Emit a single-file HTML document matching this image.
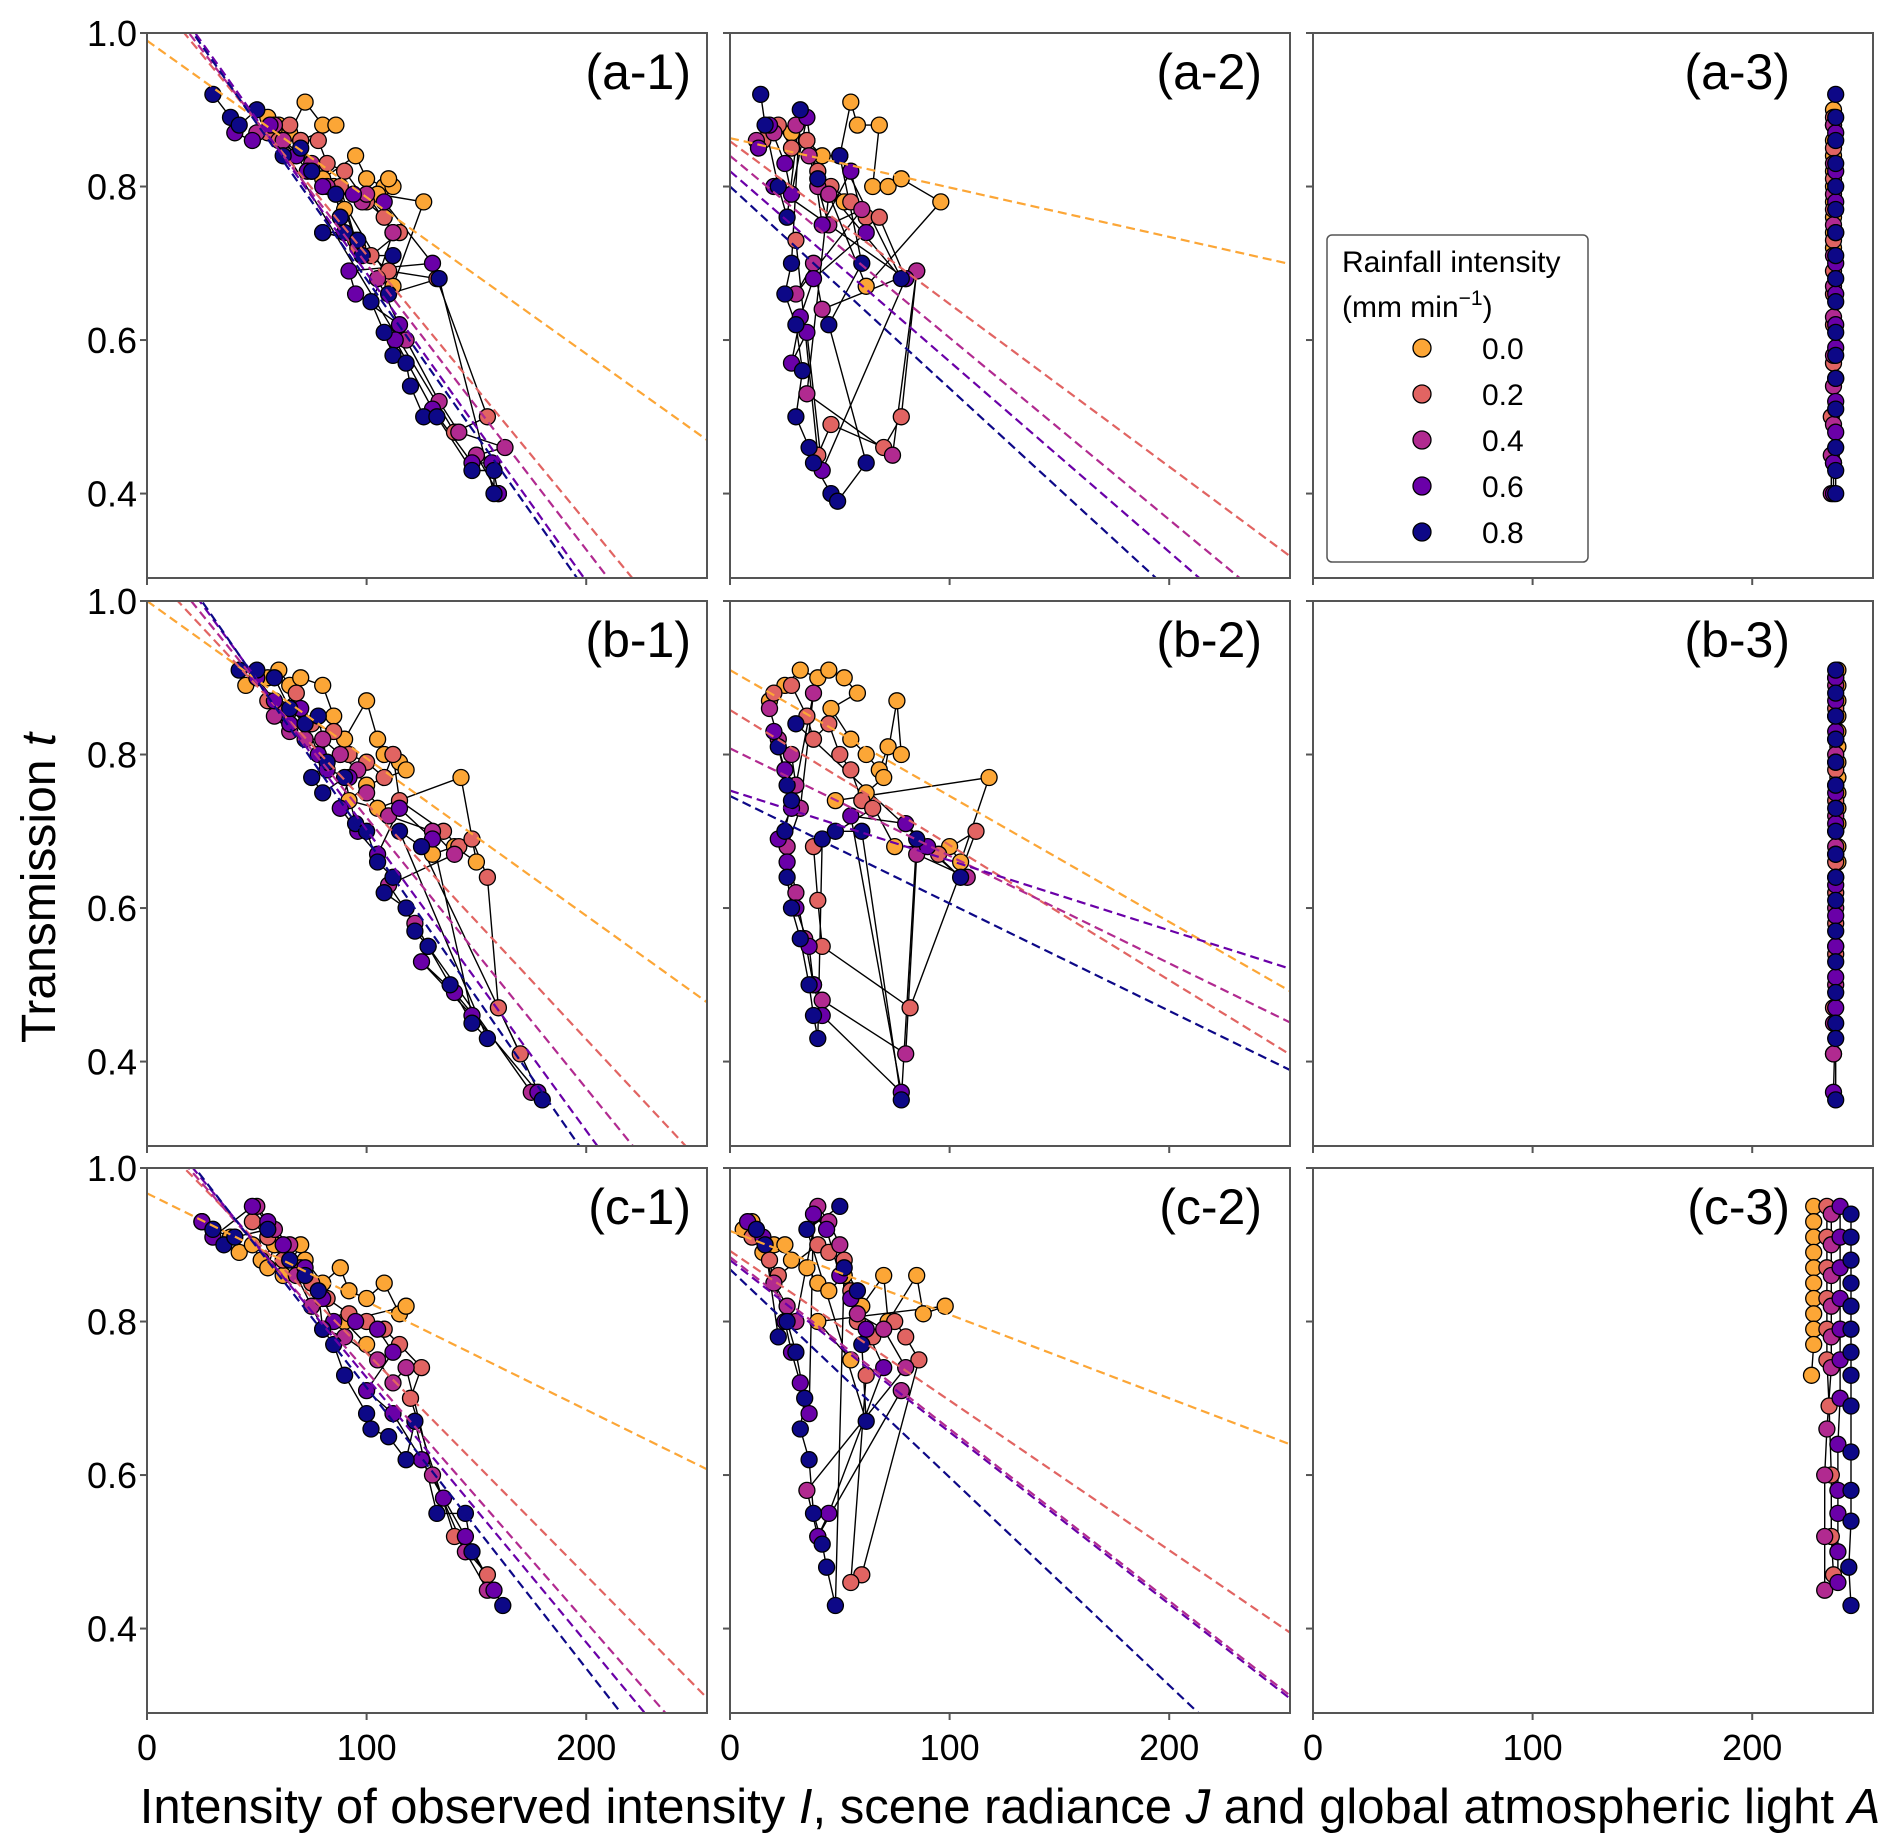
<!DOCTYPE html>
<html><head><meta charset="utf-8">
<style>
html,body{margin:0;padding:0;background:#fff;}
svg{display:block;font-family:"Liberation Sans",Arial,sans-serif;}
</style></head>
<body>
<svg id="chart" width="1892" height="1848" viewBox="0 0 1892 1848" xmlns="http://www.w3.org/2000/svg">
<g id="panels"></g>
<text x="0" y="0" font-size="48" text-anchor="middle" transform="translate(55,888) rotate(-90)">Transmission <tspan font-style="italic">t</tspan></text>
<text x="1010" y="1823" font-size="49" text-anchor="middle">Intensity of observed intensity <tspan font-style="italic">I</tspan>, scene radiance <tspan font-style="italic">J</tspan> and global atmospheric light <tspan font-style="italic">A</tspan></text>
<g>
 <rect x="1327" y="235" width="261" height="327" rx="5" fill="#fff" stroke="#555" stroke-width="1.5"/>
 <text x="1342" y="272" font-size="30">Rainfall intensity</text>
 <text x="1342" y="317" font-size="30">(mm min<tspan dy="-12" font-size="21">−1</tspan><tspan dy="12">)</tspan></text>
 <g id="legendEntries"></g>
</g>
</svg>
<script>
var NS="http://www.w3.org/2000/svg";
var seriesLabels=["0.0","0.2","0.4","0.6","0.8"];
var seriesColors=["#fca636","#e16462","#b12a90","#6a00a8","#0d0887"];
var panelNames=["a-1","a-2","a-3","b-1","b-2","b-3","c-1","c-2","c-3"];
var xTicks=[0,100,200];
var yTicks=[0.4,0.6,0.8,1.0];
var fitIntercepts={
 "a-1":[0.99,1.059,1.071,1.088,1.085],
 "a-2":[0.863,0.859,0.84,0.82,0.80],
 "b-1":[1.0,1.043,1.071,1.094,1.103],
 "b-2":[0.910,0.858,0.808,0.753,0.746],
 "c-1":[0.967,1.049,1.062,1.072,1.08],
 "c-2":[0.918,0.892,0.884,0.88,0.868]
};
var fitSlopes={
 "a-1":[-0.00204,-0.00348,-0.00372,-0.00401,-0.00406],
 "a-2":[-0.000643,-0.00212,-0.00237,-0.00248,-0.00263],
 "b-1":[-0.00205,-0.00307,-0.00353,-0.00392,-0.00413],
 "b-2":[-0.00164,-0.00176,-0.0014,-0.00091,-0.0014],
 "c-1":[-0.00141,-0.0029,-0.00327,-0.00345,-0.00366],
 "c-2":[-0.00109,-0.00195,-0.00224,-0.00224,-0.00271]
};
var pts={};
pts["a-1"]=[
 [[55,0.89],[60,0.88],[65,0.87],[72,0.91],[80,0.88],[86,0.88],[70,0.86],[75,0.82],[80,0.81],[95,0.84],[100,0.81],[108,0.80],[112,0.80],[110,0.81],[105,0.79],[126,0.78],[112,0.67],[85,0.80],[90,0.77],[95,0.73],[80,0.74]],
 [[55,0.87],[65,0.88],[70,0.86],[78,0.86],[82,0.83],[90,0.82],[100,0.78],[108,0.76],[112,0.74],[115,0.74],[102,0.71],[110,0.69],[132,0.68],[155,0.50],[140,0.48],[60,0.86],[88,0.80],[96,0.72]],
 [[50,0.87],[58,0.88],[62,0.86],[75,0.83],[82,0.80],[98,0.78],[100,0.79],[112,0.74],[105,0.68],[118,0.60],[133,0.52],[142,0.48],[163,0.46],[150,0.45],[160,0.40]],
 [[40,0.87],[48,0.86],[56,0.88],[68,0.84],[73,0.82],[80,0.80],[94,0.79],[108,0.78],[130,0.70],[92,0.69],[95,0.66],[115,0.62],[113,0.60],[130,0.51],[148,0.44],[157,0.44],[160,0.40]],
 [[30,0.92],[38,0.89],[42,0.88],[50,0.90],[62,0.84],[70,0.85],[75,0.82],[86,0.79],[88,0.76],[90,0.74],[80,0.74],[96,0.73],[98,0.71],[112,0.71],[102,0.65],[108,0.61],[112,0.58],[118,0.57],[120,0.54],[126,0.50],[132,0.50],[148,0.43],[158,0.43],[158,0.40],[133,0.68],[110,0.66]]
];
pts["a-2"]=[
 [[28,0.87],[35,0.86],[42,0.84],[50,0.84],[55,0.91],[58,0.88],[68,0.88],[65,0.80],[72,0.80],[78,0.81],[96,0.78],[62,0.67],[45,0.79],[52,0.78]],
 [[15,0.86],[22,0.88],[28,0.85],[35,0.86],[40,0.82],[46,0.80],[55,0.78],[62,0.76],[68,0.76],[80,0.68],[85,0.69],[78,0.50],[70,0.46],[46,0.49],[40,0.45],[30,0.73]],
 [[12,0.86],[20,0.87],[30,0.88],[36,0.84],[40,0.80],[45,0.75],[60,0.77],[30,0.66],[38,0.70],[42,0.64],[85,0.69],[74,0.45],[35,0.53],[45,0.79]],
 [[13,0.85],[18,0.88],[25,0.83],[28,0.79],[35,0.89],[42,0.75],[55,0.82],[62,0.74],[38,0.68],[32,0.63],[28,0.57],[35,0.61],[42,0.43],[80,0.68],[20,0.80]],
 [[14,0.92],[16,0.88],[22,0.80],[26,0.76],[32,0.90],[28,0.70],[25,0.66],[30,0.62],[33,0.56],[30,0.50],[36,0.46],[38,0.44],[46,0.40],[49,0.39],[62,0.44],[45,0.62],[60,0.70],[50,0.84],[78,0.68],[40,0.81]]
];
pts["a-3"]=[
 [[237,0.90],[237,0.88],[237,0.86],[237,0.84],[237,0.82],[237,0.80],[237,0.78],[237,0.76],[237,0.74],[237,0.72]],
 [[237,0.89],[237,0.85],[237,0.81],[237,0.77],[237,0.73],[237,0.69],[237,0.66],[237,0.62],[237,0.57],[236,0.50],[237,0.44]],
 [[237,0.88],[237,0.83],[237,0.79],[237,0.75],[237,0.71],[237,0.67],[237,0.63],[237,0.58],[237,0.54],[237,0.49],[236,0.45],[236,0.40]],
 [[238,0.87],[238,0.82],[238,0.78],[238,0.74],[238,0.70],[238,0.66],[238,0.62],[238,0.59],[238,0.55],[238,0.52],[238,0.48],[237,0.44],[237,0.40]],
 [[238,0.92],[238,0.89],[238,0.86],[238,0.83],[238,0.80],[238,0.77],[238,0.74],[238,0.71],[238,0.68],[238,0.65],[238,0.61],[238,0.58],[238,0.55],[238,0.51],[238,0.46],[238,0.43],[238,0.40]]
];
pts["b-1"]=[
 [[45,0.89],[55,0.90],[60,0.91],[65,0.89],[70,0.90],[80,0.89],[85,0.85],[90,0.82],[100,0.87],[105,0.82],[108,0.80],[112,0.80],[115,0.79],[118,0.78],[100,0.76],[92,0.74],[105,0.73],[143,0.77],[150,0.66],[140,0.68],[130,0.67]],
 [[55,0.87],[60,0.86],[68,0.88],[75,0.84],[85,0.83],[92,0.80],[100,0.79],[108,0.77],[112,0.80],[115,0.74],[135,0.70],[142,0.68],[148,0.69],[155,0.64],[160,0.47],[170,0.41]],
 [[58,0.85],[65,0.83],[72,0.82],[80,0.82],[88,0.80],[96,0.78],[100,0.75],[110,0.72],[130,0.70],[140,0.67],[110,0.63],[122,0.58],[128,0.55],[175,0.36]],
 [[50,0.90],[58,0.87],[65,0.84],[70,0.86],[78,0.80],[82,0.78],[92,0.77],[88,0.73],[96,0.70],[105,0.67],[115,0.73],[130,0.69],[148,0.46],[125,0.53],[140,0.49],[178,0.36]],
 [[42,0.91],[50,0.91],[58,0.90],[65,0.86],[72,0.84],[78,0.85],[82,0.79],[75,0.77],[80,0.75],[90,0.77],[95,0.71],[100,0.70],[105,0.66],[112,0.64],[108,0.62],[118,0.60],[122,0.57],[128,0.55],[138,0.50],[148,0.45],[155,0.43],[115,0.70],[125,0.68],[180,0.35]]
];
pts["b-2"]=[
 [[18,0.87],[25,0.89],[32,0.91],[40,0.90],[45,0.91],[52,0.90],[58,0.88],[46,0.86],[55,0.82],[62,0.80],[68,0.78],[72,0.81],[78,0.80],[76,0.87],[70,0.77],[62,0.75],[75,0.68],[100,0.68],[105,0.66],[118,0.77],[48,0.74]],
 [[20,0.88],[28,0.89],[35,0.85],[38,0.82],[45,0.84],[50,0.80],[55,0.78],[60,0.74],[65,0.73],[38,0.68],[40,0.61],[42,0.55],[82,0.47],[112,0.70],[95,0.67]],
 [[18,0.86],[22,0.82],[28,0.80],[30,0.76],[38,0.88],[32,0.73],[26,0.68],[30,0.62],[34,0.56],[38,0.50],[42,0.48],[80,0.41],[85,0.67],[108,0.64]],
 [[20,0.83],[25,0.78],[28,0.73],[22,0.69],[26,0.66],[30,0.60],[36,0.55],[38,0.50],[42,0.46],[78,0.36],[55,0.72],[80,0.71],[90,0.68]],
 [[22,0.81],[26,0.76],[28,0.74],[25,0.70],[26,0.64],[28,0.60],[32,0.56],[36,0.50],[38,0.46],[40,0.43],[42,0.69],[48,0.70],[60,0.70],[78,0.35],[85,0.69],[105,0.64],[30,0.84]]
];
pts["b-3"]=[
 [[239,0.91],[239,0.89],[239,0.87],[239,0.85],[239,0.83],[239,0.81],[239,0.79],[239,0.77],[239,0.75],[239,0.73],[239,0.71],[239,0.68],[239,0.66]],
 [[238,0.90],[238,0.86],[238,0.82],[238,0.78],[238,0.74],[238,0.70],[238,0.66],[238,0.62],[238,0.58],[238,0.54],[237,0.47],[237,0.41]],
 [[238,0.89],[238,0.85],[238,0.80],[238,0.76],[238,0.72],[238,0.68],[238,0.64],[238,0.60],[238,0.55],[238,0.50],[237,0.45],[237,0.41]],
 [[238,0.90],[238,0.87],[238,0.83],[238,0.79],[238,0.75],[238,0.71],[238,0.67],[238,0.63],[238,0.59],[238,0.55],[238,0.51],[238,0.47],[237,0.36]],
 [[238,0.91],[238,0.88],[238,0.85],[238,0.82],[238,0.79],[238,0.76],[238,0.73],[238,0.70],[238,0.67],[238,0.64],[238,0.61],[238,0.57],[238,0.53],[238,0.49],[238,0.45],[238,0.43],[238,0.35]]
];
pts["c-1"]=[
 [[25,0.93],[30,0.92],[38,0.91],[42,0.89],[48,0.90],[52,0.88],[58,0.90],[55,0.87],[62,0.86],[70,0.90],[72,0.88],[80,0.85],[88,0.87],[92,0.84],[100,0.83],[108,0.85],[115,0.81],[118,0.82],[90,0.80],[100,0.77]],
 [[48,0.93],[55,0.91],[62,0.88],[70,0.87],[75,0.85],[82,0.83],[92,0.81],[100,0.80],[108,0.79],[115,0.77],[125,0.74],[120,0.70],[140,0.52],[155,0.47]],
 [[50,0.95],[58,0.92],[65,0.90],[68,0.86],[75,0.82],[80,0.79],[90,0.78],[105,0.75],[112,0.72],[118,0.74],[130,0.60],[145,0.50],[155,0.45]],
 [[25,0.93],[30,0.91],[48,0.95],[55,0.93],[62,0.90],[72,0.87],[80,0.83],[85,0.80],[95,0.80],[105,0.79],[112,0.76],[100,0.71],[112,0.68],[125,0.62],[135,0.57],[145,0.52],[158,0.45]],
 [[30,0.92],[35,0.90],[40,0.91],[55,0.92],[65,0.88],[72,0.86],[78,0.84],[80,0.79],[85,0.77],[90,0.73],[100,0.68],[102,0.66],[110,0.65],[118,0.62],[122,0.67],[132,0.55],[145,0.55],[148,0.50],[162,0.43]]
];
pts["c-2"]=[
 [[6,0.92],[10,0.93],[15,0.89],[20,0.90],[25,0.90],[28,0.88],[35,0.87],[40,0.85],[45,0.84],[52,0.86],[60,0.82],[70,0.86],[72,0.80],[85,0.86],[88,0.81],[98,0.82],[40,0.80],[55,0.75]],
 [[10,0.91],[18,0.88],[22,0.86],[40,0.90],[45,0.89],[52,0.88],[55,0.84],[58,0.80],[65,0.78],[75,0.80],[80,0.78],[86,0.75],[60,0.47],[55,0.46],[62,0.73]],
 [[12,0.92],[20,0.85],[26,0.82],[30,0.80],[40,0.95],[45,0.93],[50,0.90],[58,0.81],[70,0.79],[80,0.74],[35,0.58],[40,0.52],[78,0.71]],
 [[8,0.93],[15,0.91],[25,0.80],[28,0.76],[32,0.72],[36,0.68],[38,0.94],[44,0.92],[50,0.86],[55,0.83],[62,0.79],[70,0.74],[45,0.55],[40,0.52]],
 [[12,0.92],[16,0.90],[22,0.78],[26,0.80],[30,0.76],[34,0.70],[32,0.66],[36,0.62],[38,0.55],[42,0.51],[44,0.48],[48,0.43],[52,0.87],[58,0.84],[60,0.77],[62,0.67],[35,0.92],[50,0.95]]
];
pts["c-3"]=[
 [[228,0.95],[228,0.93],[228,0.91],[228,0.89],[228,0.87],[228,0.85],[228,0.83],[228,0.81],[228,0.79],[228,0.77],[227,0.73]],
 [[234,0.95],[234,0.91],[234,0.87],[234,0.83],[234,0.79],[234,0.75],[235,0.69],[236,0.60],[236,0.52],[237,0.47]],
 [[236,0.94],[236,0.90],[236,0.86],[236,0.82],[236,0.78],[236,0.74],[234,0.66],[233,0.60],[233,0.52],[233,0.45]],
 [[240,0.95],[240,0.91],[240,0.87],[240,0.83],[240,0.79],[240,0.75],[240,0.70],[239,0.64],[239,0.58],[239,0.55],[239,0.50],[239,0.46]],
 [[245,0.94],[245,0.91],[245,0.88],[245,0.85],[245,0.82],[245,0.79],[245,0.76],[245,0.73],[245,0.69],[245,0.63],[245,0.58],[245,0.54],[244,0.48],[245,0.43]]
];

var colLefts=[147,730,1313], rowTops=[33,601,1168], PW=560, PH=545;
var labelRightOffsets=[16,28,83];
var XMIN=0,XMAX=255,YMIN=0.29,YMAX=1.0;
var root=document.getElementById('panels');
function mk(tag,attrs,parent){var e=document.createElementNS(NS,tag);for(var k in attrs)e.setAttribute(k,attrs[k]);(parent||root).appendChild(e);return e;}

panelNames.forEach(function(name,pi){
  var r=Math.floor(pi/3), c=pi%3, L=colLefts[c], T=rowTops[r];
  function sx(v){return L+(v-XMIN)/(XMAX-XMIN)*PW;}
  function sy(v){return T+(YMAX-v)/(YMAX-YMIN)*PH;}
  var g=mk('g',{});
  
  
  var cid='clip-'+name;
  var defs=mk('clipPath',{id:cid},g);
  mk('rect',{x:L,y:T,width:PW,height:PH},defs);
  var plot=mk('g',{'clip-path':'url(#'+cid+')'},g);
  pts[name].forEach(function(ser,si){
    var d=ser.map(function(p,i){return (i?'L':'M')+sx(p[0]).toFixed(1)+' '+sy(p[1]).toFixed(1);}).join(' ');
    var pl=mk('path',{d:d,fill:'none',stroke:'#000','stroke-width':1.4},plot);
    
    
  });
  pts[name].forEach(function(ser,si){
    ser.forEach(function(p){
      var ci=mk('circle',{cx:sx(p[0]).toFixed(1),cy:sy(p[1]).toFixed(1),r:8,fill:seriesColors[si],stroke:'#000','stroke-width':1.3},plot);
      
      
    });
  });
  if(fitIntercepts[name]){
    fitIntercepts[name].forEach(function(b,si){
      var m=fitSlopes[name][si];
      var ln=mk('line',{x1:sx(XMIN),y1:sy(b+m*XMIN),x2:sx(XMAX),y2:sy(b+m*XMAX),stroke:seriesColors[si],'stroke-width':2.2,'stroke-dasharray':'9 5'},plot);
      
      
    });
  }
  var fr=mk('rect',{x:L,y:T,width:PW,height:PH,fill:'none',stroke:'#555','stroke-width':2},g);
  
  
  xTicks.forEach(function(t){
    var x=sx(t);
    mk('line',{x1:x,y1:T+PH,x2:x,y2:T+PH+7,stroke:'#555','stroke-width':2},g);
    if(r===2){
      var tx=mk('text',{x:x,y:T+PH+47,'font-size':36,'text-anchor':'middle'},g);
      tx.textContent=t;
      
      
    }
  });
  yTicks.forEach(function(t){
    var y=sy(t);
    mk('line',{x1:L-7,y1:y,x2:L,y2:y,stroke:'#555','stroke-width':2},g);
    if(c===0){
      var ty=mk('text',{x:L-10,y:y+13,'font-size':36,'text-anchor':'end'},g);
      ty.textContent=t.toFixed(1);
      
      
    }
  });
  var lab=mk('text',{x:L+PW-labelRightOffsets[c],y:T+56,'font-size':50,'text-anchor':'end'},g);
  lab.textContent='('+name+')';
  
  
});

var lg=document.getElementById('legendEntries');
seriesLabels.forEach(function(s,i){
  var y=348+i*46;
  var e=mk('g',{},lg);
  
  
  mk('circle',{cx:1422,cy:y,r:9,fill:seriesColors[i],stroke:'#000','stroke-width':1.3},e);
  var t=mk('text',{x:1482,y:y+11,'font-size':30},e);
  t.textContent=s;
});
</script>
</body></html>
